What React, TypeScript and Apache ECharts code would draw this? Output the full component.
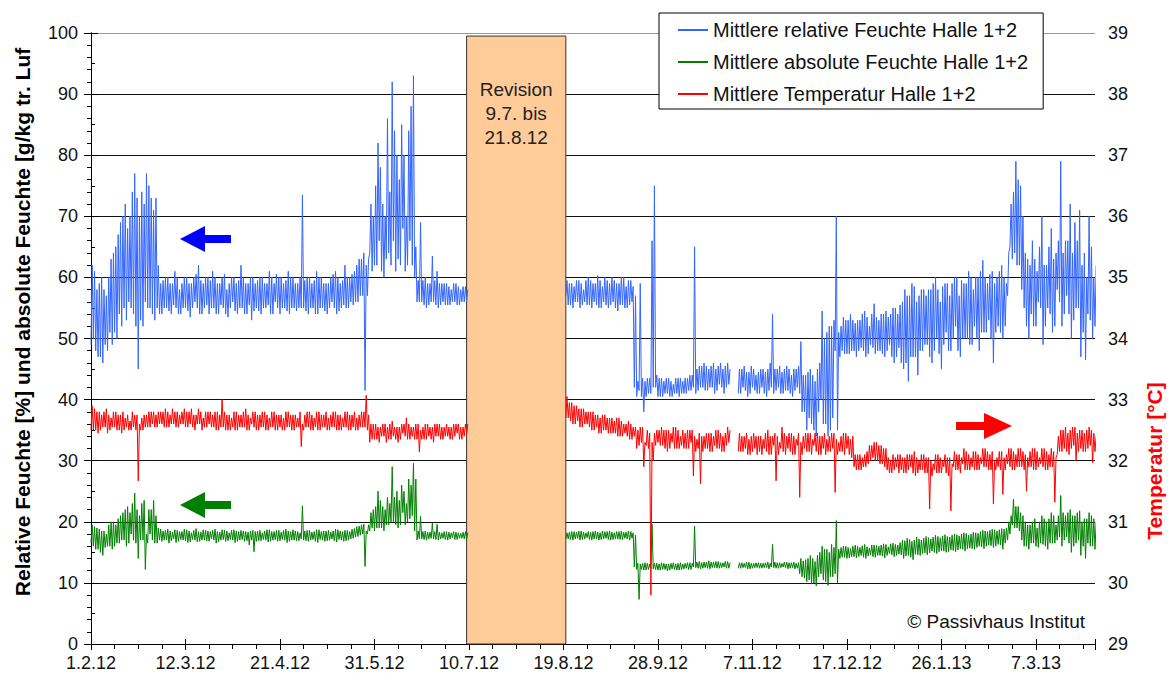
import React, { useEffect, useRef } from "react";
import * as echarts from "echarts";

// ---------- data ----------
const startYear = 2012;
const startMonthIndex = 1; // February
const startDayOfMonth = 1;
const xMaxDay = 425;
const xTickDays = 40;

const seriesNames = [
  "Mittlere relative Feuchte Halle 1+2",
  "Mittlere absolute Feuchte Halle 1+2",
  "Mittlere Temperatur Halle 1+2",
];

// first day (days since 1.2.12) of each measured segment
const segmentStarts = [0, 201, 274];

const revisionDays = [159, 201];
const revisionTop = 99.5;
const revisionLabel = "Revision\n9.7. bis\n21.8.12";

// ---- relative humidity [%]: one reading per day (a) and the opposite edge of the day's band (b)
const rhA = [
  62, 50, 58, 47, 60, 46, 57, 48, 63, 49,
  65, 50, 69, 52, 72, 53, 70, 55, 77, 52,
  45, 74, 52, 77, 55, 73, 54, 73, 55, 59,
  54, 60, 55, 59, 54, 61, 55, 58, 54, 60,
  55, 59, 53.5, 60, 56, 62, 54, 59, 55, 60,
  54, 61, 55, 59, 54, 60, 55, 58, 53.5, 60,
  56, 59, 54, 62, 55, 59, 54, 60, 53, 59,
  55, 60, 54, 59, 55, 61, 54, 59, 56, 60,
  54, 59, 55, 61, 54, 60, 55, 59, 55, 73.5,
  55, 60, 54, 59, 55, 61, 54, 60, 55, 59,
  54, 60, 56, 61, 54, 59, 55, 62, 55, 60,
  56, 61, 56, 63, 57, 64, 41.5, 63, 64, 70,
  62, 82, 66, 72, 60, 86, 64, 92, 66, 80,
  63, 85, 68, 61, 84, 66, 93, 60, 56, 69,
  56, 60, 55, 59, 63.5, 56, 61, 55, 59, 56,
  59, 55.5, 58, 56, 59, 55.5, 58, 56, 58.5, 56,
];
const rhA2 = [
  49, 61, 48, 59, 47, 58, 49, 60, 51, 64,
  51, 67, 54, 70, 55, 68, 56, 74, 54, 73,
  70, 53, 72, 56, 75, 55, 71, 53, 62, 54,
  59.5, 55, 60, 54.5, 59, 55.5, 60, 54, 59, 55,
  60, 54.5, 59, 55, 60.5, 55, 59.5, 54, 60, 55.5,
  59.5, 55, 60, 54, 59, 55.5, 60.5, 54, 59, 55,
  60, 54.5, 59.5, 55, 60, 54, 59, 55.5, 60, 54.5,
  59.5, 54.5, 60, 55, 59, 55.5, 60, 54, 60.5, 55,
  60, 55, 59.5, 54.5, 60, 55, 59, 54.5, 60, 55,
  59.5, 54.5, 60, 55, 59.5, 54, 60, 55, 59, 54.5,
  59, 55, 60.5, 55, 60, 54.5, 59.5, 55.5, 60, 55,
  60.5, 55.5, 62, 56, 63, 57, 62, 57, 72, 61,
  75, 62, 78, 61, 70, 63, 74, 62, 84, 61,
  76, 62, 80, 70, 62, 88, 62, 65, 59.5, 56,
  59.5, 55.5, 59, 55.5, 56, 59.5, 55.5, 59, 55.5, 59,
  55.5, 58.5, 55.5, 59, 56, 58.5, 55.5, 58.5, 56, 58,
];
const rhB = [
  57, 59, 55.5, 58.5, 56, 59.5, 55, 58, 56, 60,
  55.5, 59, 56, 60.3, 55, 58.5, 56, 59.5, 55, 60,
  56, 59, 54.5, 60, 55.5, 58.5, 55, 59.5, 56, 42,
  43, 59, 40.5, 38, 43.5, 41, 66, 75, 42, 43.5,
  40.5, 43, 41, 43.5, 40.5, 42.5, 41, 43.5, 40.5, 43,
  41, 43.5, 41.5, 44, 65, 41, 45.5, 42, 46, 41.5,
  45, 42, 46, 41, 45.5, 42.5, 45, 41, 46, 42.5,
];
const rhB2 = [
  59.5, 55.5, 59, 55, 59.5, 56, 59, 55.5, 59.5, 55.5,
  59.5, 55, 59, 55.5, 59.5, 55, 60, 55.5, 59, 55.5,
  59.5, 55, 59, 55.5, 60, 55, 59.5, 55.5, 58.5, 57,
  40.5, 41.5, 43.5, 43, 40.5, 43.5, 41, 42, 44, 40.5,
  43.5, 40.5, 43.5, 41, 43, 40.5, 43.5, 41, 43.5, 41,
  43.5, 41, 44, 41.5, 42, 45, 41.5, 45.5, 42, 45.5,
  41.5, 45.5, 42, 45, 41.5, 46, 42, 45.5, 42, 45,
];
const rhC = [
  41, 45, 42, 44.5, 40.5, 45.5, 42, 44, 41, 45,
  42, 44.5, 40.5, 46, 54, 41, 45, 42, 44.5, 41,
  45.5, 41.5, 44, 40.5, 45, 42, 49.5, 38, 44, 35,
  45, 36, 43, 34, 46, 54.5, 36, 51, 34, 52,
  37, 70, 35, 52, 48, 53, 47.5, 54, 48, 52.5,
  47, 53, 48.5, 54.5, 47, 52, 49, 55.7, 47.5, 53,
  48, 54, 47, 53.5, 49, 55, 46, 54, 48.5, 56,
  45, 57, 43, 59, 47, 56, 44, 58, 48, 57,
  49, 58, 46, 60, 50, 56, 45, 59, 51, 57,
  48, 60, 52, 57, 47, 59, 50, 61, 49, 58,
  52, 60, 48, 62.8, 51, 59, 53, 61, 46, 60,
  52, 62, 50, 59, 57, 65, 74, 79, 76, 62,
  70, 55, 63, 50, 66, 52, 61, 56, 70, 49,
  62, 55, 68, 51, 64, 58, 79, 52, 66, 57,
  72, 50, 69, 55, 71, 47, 64, 46.5, 70, 53,
  60, 52,
];
const rhC2 = [
  45, 41, 45.5, 41.5, 44.5, 41, 45, 41.5, 44.5, 41,
  45, 41, 45, 41.5, 42, 45, 41.5, 45.5, 41, 45,
  41.5, 45, 41, 45, 41.5, 45.5, 41, 44, 38, 44.5,
  37, 44, 35, 45, 38, 40, 50, 36, 52, 35,
  53, 48, 51, 47, 53.5, 47.5, 53, 47.5, 53, 48,
  53, 48, 54, 48, 53.5, 47.5, 54, 48.5, 53.5, 48,
  54, 47.5, 54.5, 48, 54, 47, 55, 47, 55.5, 46,
  58, 46, 57, 47, 58.5, 47, 57, 48, 58, 49,
  58, 47, 59, 48, 58, 47.5, 58.5, 49, 59, 48,
  59, 50, 60, 48, 59.5, 50, 59, 50, 60, 49,
  60, 50, 61, 51, 60, 51, 60.5, 50, 59, 51,
  61, 51, 60, 52, 64, 72, 63, 64, 62, 75,
  58, 64, 52, 62, 54, 63, 52, 65, 55, 62,
  52, 65, 54, 63, 52, 66, 56, 64, 54, 66,
  54, 64, 53, 66, 55, 62, 51, 60, 54, 65,
  50, 62,
];

// ---- absolute humidity [g/kg]
const ahA = [
  19.5, 16, 19, 15.5, 18.5, 14.5, 18, 16, 20, 15.5,
  19.5, 16.5, 21, 17, 22, 16, 21.5, 18, 24.7, 16.5,
  14, 23, 17, 12.2, 22, 18, 23.5, 16.5, 19, 17,
  18.5, 17, 18.8, 16.5, 18.3, 17.2, 18.6, 16.8, 18.4, 17,
  18.7, 16.6, 18.2, 17.1, 18.9, 16.7, 18.3, 17, 18.6, 16.9,
  18.4, 17.2, 18.8, 16.5, 18.3, 17, 18.6, 16.8, 18.2, 17.1,
  18.7, 16.6, 18.4, 17, 18.5, 16.8, 18.3, 16.2, 18.6, 15.1,
  18.5, 16.9, 18.2, 17.1, 18.7, 16.7, 18.4, 17, 18.6, 16.8,
  18.3, 17.1, 18.8, 16.6, 18.4, 17, 18.5, 16.9, 18.2, 22.6,
  17, 18.6, 16.8, 18.3, 17.1, 18.7, 16.6, 18.4, 17, 18.5,
  16.9, 18.3, 17.2, 18.8, 16.7, 18.5, 17, 18.6, 16.9, 18.4,
  17.2, 18.9, 17.5, 19.3, 17.8, 19.6, 12.7, 19.5, 18.5, 22,
  18.5, 25, 19, 22.5, 18.5, 24, 19.5, 29, 20, 25,
  19, 26, 21.5, 19.5, 27, 20.5, 29.6, 18.5, 17, 20.9,
  17.2, 18.5, 17, 18.3, 19.8, 17.2, 19.6, 17, 18.2, 17.3,
  18.4, 17, 18.2, 17.4, 18.3, 17.1, 18.1, 17.3, 18.4, 17.2,
];
const ahA2 = [
  16.5, 19.2, 15.5, 18.8, 15, 18.5, 15.8, 19.5, 16, 20,
  16, 20.5, 16.5, 21.5, 17, 22.5, 16.5, 23, 17, 22,
  21, 17, 23.5, 18, 16.5, 22, 17, 21, 16.5, 18.8,
  16.8, 18.6, 17, 18.5, 16.9, 18.7, 16.6, 18.4, 17.1, 18.8,
  16.9, 18.5, 16.7, 18.6, 17, 18.4, 16.8, 18.7, 17, 18.5,
  16.8, 18.6, 17, 18.4, 16.7, 18.7, 17.1, 18.5, 16.9, 18.6,
  17, 18.5, 16.8, 18.6, 17.1, 18.4, 16.9, 18.5, 17, 18.4,
  16.8, 18.6, 16.9, 18.5, 17, 18.7, 16.8, 18.4, 17.1, 18.6,
  16.9, 18.6, 17, 18.5, 16.8, 18.7, 17, 18.4, 16.9, 17.2,
  18.5, 16.9, 18.6, 17, 18.4, 16.8, 18.7, 17.1, 18.5, 16.8,
  18.6, 17, 18.5, 16.9, 18.7, 17.1, 18.4, 16.8, 18.6, 17,
  18.8, 17.3, 19.2, 17.6, 19.5, 18, 18.5, 18, 21.5, 19,
  22.5, 19, 23.5, 19, 22, 19.5, 23, 20, 24, 19.5,
  23.5, 19.5, 25, 23, 20, 26, 21, 27, 18.5, 17.2,
  18.4, 17.1, 18.3, 17.2, 17.3, 18.4, 17.1, 18.3, 17.2, 18.4,
  17.1, 18.3, 17.2, 18.4, 17.1, 18.2, 17.3, 18.3, 17.2, 18.2,
];
const ahB = [
  18.2, 17.2, 18.4, 17, 18.3, 17.3, 18.5, 17.1, 18.2, 17.4,
  18.3, 17, 18.5, 17.2, 18.2, 17.1, 18.4, 17.3, 18.5, 17,
  18.2, 17.2, 18.4, 17.1, 18.3, 17.3, 18.5, 17, 18.2, 12.6,
  13.2, 7.3, 12.2, 13.3, 12.1, 13.1, 19.6, 12.3, 13.2, 12.1,
  13.3, 12.2, 13.1, 12.0, 13.2, 12.3, 13.1, 12.1, 13.3, 12.2,
  13.2, 12.4, 13.3, 12.2, 19.3, 12.5, 13.5, 12.3, 13.4, 12.5,
  13.6, 12.3, 13.4, 12.5, 13.5, 12.4, 13.3, 12.6, 13.5, 12.4,
];
const ahB2 = [
  17.2, 18.3, 17.1, 18.4, 17.2, 18.5, 17, 18.3, 17.2, 18.4,
  17.1, 18.4, 17.2, 18.3, 17, 18.5, 17.2, 18.4, 17.1, 18.3,
  17.1, 18.4, 17.2, 18.5, 17.1, 18.3, 17.2, 18.4, 17.3, 17.8,
  12.2, 13.1, 13.2, 12.1, 13.2, 12.2, 12.4, 13.2, 12.2, 13.1,
  12.1, 13.2, 12.2, 13.1, 12.1, 13.3, 12.2, 13.2, 12.1, 13.1,
  12.3, 13.3, 12.2, 13.2, 12.6, 13.4, 12.4, 13.3, 12.4, 13.4,
  12.4, 13.4, 12.5, 13.5, 12.4, 13.3, 12.5, 13.5, 12.4, 13.3,
];
const ahC = [
  13.3, 12.4, 13.2, 12.5, 13.4, 12.3, 13.2, 12.5, 13.3, 12.4,
  13.2, 12.5, 13.4, 12.3, 16.3, 12.5, 13.3, 12.4, 13.2, 12.6,
  13.4, 12.3, 13.3, 12.5, 13.2, 12.4, 14, 11, 13.8, 10.2,
  14.5, 9.8, 13.5, 9.5, 15, 16, 10.5, 15.5, 9.6, 16.3,
  11, 20.2, 10, 15.8, 14.2, 16, 14, 15.6, 14.3, 16.2,
  14.1, 15.8, 14.5, 16.3, 14, 15.7, 14.6, 16.2, 14.2, 16,
  14.5, 16.4, 14.1, 15.9, 14.8, 16.5, 14.3, 16.2, 14.7, 17,
  14, 17.3, 14.5, 16.8, 13.8, 17.5, 14.6, 17, 14.8, 17.6,
  14.6, 17.2, 15.2, 17.8, 14.8, 17.4, 15.3, 17.9, 15, 17.5,
  15.4, 18, 15.1, 17.7, 15.6, 18.2, 15.2, 17.8, 15.7, 18.3,
  15.5, 18.1, 16, 18.6, 15.6, 18.4, 16.2, 18.8, 15.8, 18.5,
  16.3, 18.9, 15.5, 19, 17, 21, 23.7, 19, 22.5, 18.5,
  21, 16, 19.5, 15.5, 20, 16.5, 19, 15.8, 21, 16.3,
  20, 15.5, 21.5, 16.5, 19.5, 17, 24.3, 16, 21, 17.5,
  22, 15, 21, 16.5, 21.8, 14.5, 20.5, 14, 21.5, 16,
  20.5, 15.5,
];
const ahC2 = [
  12.4, 13.3, 12.5, 13.4, 12.3, 13.2, 12.4, 13.3, 12.5, 13.2,
  12.4, 13.3, 12.5, 13.2, 12.6, 13.4, 12.4, 13.3, 12.5, 13.4,
  12.5, 13.3, 12.4, 13.4, 12.3, 13.3, 11.5, 13.6, 10.8, 14,
  10.5, 14, 10, 14.5, 11, 11.5, 15.5, 10.2, 15, 11,
  15.8, 11.5, 15.5, 14, 16, 14.2, 15.8, 14.1, 16, 14.3,
  16, 14.3, 16.1, 14.2, 15.9, 14.4, 16.2, 14.3, 16.1, 14.5,
  16.2, 14.4, 16.3, 14.5, 16.4, 14.6, 16.3, 14.5, 16.6, 14.6,
  16.9, 14.4, 17.1, 14.2, 17, 14.7, 17.2, 14.5, 17.3, 14.9,
  17.4, 14.9, 17.5, 15, 17.6, 15.1, 17.7, 15.2, 17.6, 15.1,
  17.8, 15.3, 17.9, 15.4, 18, 15.5, 18.1, 15.6, 18, 15.6,
  18.2, 15.8, 18.4, 15.9, 18.5, 16, 18.6, 16.1, 18.7, 16,
  18.7, 16.2, 18.8, 16.5, 20, 18, 19.5, 22.5, 19, 21.5,
  17, 20, 16, 19.5, 16.5, 20.5, 16, 20, 16.5, 20.5,
  16, 20.5, 16.5, 21, 16.5, 21, 17.5, 21.5, 17, 21.5,
  16.5, 21, 16, 21.5, 17, 20, 16, 20.5, 16.5, 21,
  16, 20,
];

// ---- temperature [°C]
const tA = [
  32.9, 32.5, 32.8, 32.45, 32.75, 32.55, 32.85, 32.45, 32.7, 32.55,
  32.8, 32.5, 32.75, 32.45, 32.7, 32.55, 32.65, 32.5, 32.75, 32.5,
  31.67, 32.7, 32.5, 32.75, 32.55, 32.8, 32.6, 32.75, 32.55, 32.8,
  32.6, 32.85, 32.55, 32.75, 32.6, 32.8, 32.55, 32.75, 32.6, 32.85,
  32.55, 32.8, 32.6, 32.75, 32.5, 32.85, 32.6, 32.7, 32.55, 32.8,
  32.6, 32.75, 32.55, 32.8, 32.5, 33.0, 32.55, 32.75, 32.5, 32.7,
  32.55, 32.8, 32.5, 32.75, 32.55, 32.85, 32.5, 32.7, 32.6, 32.8,
  32.5, 32.75, 32.55, 32.8, 32.5, 32.7, 32.55, 32.8, 32.5, 32.75,
  32.55, 32.7, 32.5, 32.8, 32.55, 32.75, 32.5, 32.7, 32.55, 32.23,
  32.75, 32.55, 32.8, 32.5, 32.7, 32.55, 32.8, 32.5, 32.75, 32.55,
  32.7, 32.5, 32.8, 32.55, 32.75, 32.5, 32.7, 32.55, 32.8, 32.5,
  32.75, 32.55, 32.7, 32.5, 32.8, 32.55, 33.07, 32.5, 32.3, 32.6,
  32.35, 32.55, 32.3, 32.6, 32.4, 32.55, 32.35, 32.65, 32.4, 32.55,
  32.3, 32.6, 32.45, 32.7, 32.35, 32.55, 32.4, 32.6, 32.35, 32.14,
  32.55, 32.35, 32.6, 32.4, 32.55, 32.3, 32.6, 32.4, 32.55, 32.35,
  32.6, 32.4, 32.55, 32.35, 32.6, 32.45, 32.55, 32.35, 32.6, 32.45,
];
const tA2 = [
  32.5, 32.85, 32.5, 32.8, 32.5, 32.8, 32.55, 32.75, 32.5, 32.8,
  32.55, 32.75, 32.5, 32.8, 32.5, 32.75, 32.5, 32.8, 32.55, 32.75,
  32.6, 32.5, 32.75, 32.55, 32.8, 32.55, 32.8, 32.55, 32.8, 32.6,
  32.8, 32.55, 32.8, 32.55, 32.85, 32.6, 32.8, 32.55, 32.8, 32.6,
  32.8, 32.55, 32.85, 32.55, 32.75, 32.6, 32.8, 32.5, 32.8, 32.55,
  32.8, 32.55, 32.8, 32.5, 32.75, 32.55, 32.8, 32.5, 32.75, 32.5,
  32.8, 32.5, 32.75, 32.55, 32.8, 32.55, 32.75, 32.5, 32.8, 32.55,
  32.75, 32.5, 32.8, 32.55, 32.75, 32.5, 32.8, 32.55, 32.75, 32.5,
  32.75, 32.5, 32.8, 32.55, 32.75, 32.5, 32.75, 32.55, 32.8, 32.6,
  32.5, 32.8, 32.55, 32.75, 32.5, 32.8, 32.5, 32.75, 32.55, 32.8,
  32.5, 32.75, 32.55, 32.8, 32.5, 32.75, 32.5, 32.8, 32.55, 32.75,
  32.5, 32.8, 32.5, 32.75, 32.55, 32.8, 32.55, 32.75, 32.6, 32.35,
  32.6, 32.35, 32.55, 32.4, 32.6, 32.3, 32.6, 32.35, 32.55, 32.35,
  32.55, 32.35, 32.6, 32.4, 32.6, 32.35, 32.55, 32.35, 32.6, 32.5,
  32.35, 32.6, 32.35, 32.55, 32.35, 32.6, 32.4, 32.6, 32.35, 32.55,
  32.4, 32.55, 32.35, 32.6, 32.4, 32.6, 32.35, 32.55, 32.4, 32.6,
];
const tB = [
  33.05, 32.7, 32.95, 32.6, 32.9, 32.65, 32.85, 32.55, 32.8, 32.6,
  32.8, 32.5, 32.75, 32.55, 32.7, 32.45, 32.75, 32.5, 32.7, 32.45,
  32.65, 32.45, 32.7, 32.4, 32.6, 32.45, 32.65, 32.35, 32.55, 32.4,
  32.2, 32.55, 32.3, 31.9, 32.25, 32.45, 29.8, 32.0, 32.5, 32.3,
  32.55, 32.25, 32.5, 32.15, 32.45, 32.3, 32.55, 32.2, 32.4, 32.25,
  32.45, 32.2, 32.5, 32.3, 31.75, 32.35, 32.45, 31.62, 32.4, 32.2,
  32.45, 32.15, 32.4, 32.25, 32.5, 32.2, 32.4, 32.15, 32.55, 32.3,
];
const tB2 = [
  32.7, 32.95, 32.65, 32.9, 32.6, 32.85, 32.55, 32.85, 32.6, 32.8,
  32.55, 32.8, 32.5, 32.75, 32.45, 32.75, 32.5, 32.7, 32.45, 32.7,
  32.45, 32.7, 32.4, 32.65, 32.4, 32.6, 32.4, 32.6, 32.35, 32.55,
  32.5, 32.25, 32.55, 32.3, 32.5, 32.2, 32.3, 32.45, 32.25, 32.5,
  32.25, 32.5, 32.2, 32.5, 32.2, 32.55, 32.2, 32.5, 32.2, 32.5,
  32.2, 32.5, 32.2, 32.5, 32.4, 32.15, 32.2, 32.4, 32.15, 32.45,
  32.2, 32.45, 32.15, 32.5, 32.2, 32.45, 32.15, 32.45, 32.25, 32.5,
];
const tC = [
  32.45, 32.15, 32.4, 32.2, 32.35, 32.1, 32.45, 32.2, 32.4, 32.15,
  32.35, 32.2, 32.5, 32.1, 32.4, 32.25, 31.67, 32.3, 32.55, 32.15,
  32.4, 32.2, 32.45, 32.1, 32.35, 32.25, 31.4, 32.4, 32.2, 32.45,
  32.15, 32.35, 32.25, 32.45, 32.1, 32.4, 32.2, 32.35, 32.15, 32.45,
  32.2, 31.48, 32.3, 32.4, 32.15, 32.45, 32.2, 32.35, 32.05, 31.9,
  32.1, 31.85, 32.05, 31.9, 32.15, 31.95, 32.25, 32.05, 32.3, 32.0,
  32.25, 31.95, 32.2, 31.85, 32.0, 31.8, 32.05, 31.9, 32.1, 31.85,
  32.05, 31.8, 32.1, 31.9, 32.15, 31.75, 32.0, 31.85, 32.1, 31.8,
  32.05, 31.21, 31.95, 31.85, 32.1, 31.8, 32.0, 31.9, 32.05, 31.75,
  31.18, 31.9, 32.1, 31.85, 32.05, 31.95, 32.15, 31.85, 32.05, 31.9,
  32.15, 31.85, 32.05, 31.95, 32.2, 31.9, 32.1, 31.85, 31.29, 32.05,
  31.9, 32.15, 31.45, 32.1, 31.95, 32.2, 31.85, 32.1, 31.9, 32.2,
  31.9, 32.1, 31.5, 32.15, 31.9, 32.2, 31.85, 32.05, 31.95, 32.2,
  31.85, 32.1, 31.9, 32.15, 31.32, 32.4, 32.15, 32.5, 32.2, 32.45,
  32.1, 32.55, 32.25, 32.0, 32.5, 32.2, 32.45, 32.15, 32.55, 32.25,
  31.97, 32.4,
];
const tC2 = [
  32.15, 32.4, 32.15, 32.45, 32.1, 32.4, 32.15, 32.4, 32.1, 32.4,
  32.1, 32.45, 32.15, 32.4, 32.1, 32.45, 32.4, 32.1, 32.2, 32.45,
  32.1, 32.45, 32.15, 32.4, 32.1, 32.45, 32.3, 32.1, 32.45, 32.15,
  32.45, 32.1, 32.45, 32.15, 32.4, 32.1, 32.45, 32.1, 32.4, 32.15,
  32.45, 32.35, 32.1, 32.15, 32.45, 32.1, 32.4, 32.1, 32.4, 32.1,
  31.85, 32.1, 31.85, 32.1, 31.9, 32.25, 32.0, 32.3, 32.0, 32.25,
  31.95, 32.2, 31.9, 32.05, 31.8, 32.1, 31.85, 32.1, 31.8, 32.05,
  31.8, 32.1, 31.85, 32.1, 31.8, 32.05, 31.8, 32.1, 31.85, 32.05,
  31.8, 32.0, 31.75, 32.1, 31.8, 32.05, 31.8, 32.1, 31.8, 32.05,
  31.95, 32.15, 31.85, 32.1, 31.8, 32.2, 31.85, 32.1, 31.85, 32.15,
  31.85, 32.1, 31.85, 32.2, 31.9, 32.15, 31.85, 32.15, 32.0, 31.85,
  32.15, 31.85, 32.05, 31.85, 32.2, 31.9, 32.15, 31.85, 32.2, 31.9,
  32.15, 31.85, 32.05, 31.9, 32.2, 31.85, 32.15, 31.9, 32.2, 31.9,
  32.15, 31.85, 32.2, 31.9, 32.05, 32.1, 32.5, 32.15, 32.55, 32.15,
  32.5, 32.2, 32.55, 32.45, 32.15, 32.5, 32.15, 32.5, 32.2, 32.5,
  32.45, 32.15,
];

// ---------- helpers ----------
// each day contributes its lower reading, then its upper reading half a day later
function buildSeries(segments: number[][][]) {
  const out: any[] = [];
  segments.forEach(([a, b], si) => {
    const start = segmentStarts[si];
    if (si > 0) out.push([start - 0.5, null]);
    a.forEach((v, i) => {
      const w = b[i];
      out.push([start + i, Math.min(v, w)]);
      out.push([start + i + 0.5, Math.max(v, w)]);
    });
  });
  return out;
}

function dayToLabel(day: number) {
  const d = new Date(startYear, startMonthIndex, startDayOfMonth + day);
  const yy = String(d.getFullYear() % 100).padStart(2, "0");
  return `${d.getDate()}.${d.getMonth() + 1}.${yy}`;
}

const FONT = "'Liberation Sans', Arial, sans-serif";
const TXT = "#111";

export default function App() {
  const ref = useRef<HTMLDivElement>(null);

  useEffect(() => {
    if (!ref.current) return;
    const chart = echarts.init(ref.current, undefined, { renderer: "svg" });

    const gridColors = ["#111", "#111", "#111", "#111", "#111", "#111", "#111", "#111", "#111", "#111", "#999"];

    const option: any = {
      animation: false,
      backgroundColor: "#fff",
      textStyle: { fontFamily: FONT },
      grid: { left: 91, right: 73, top: 33, bottom: 38, containLabel: false },
      legend: {
        orient: "vertical",
        left: 659,
        top: 13,
        padding: [7, 15, 5, 19],
        itemGap: 12,
        itemWidth: 30,
        itemHeight: 2,
        icon: "rect",
        backgroundColor: "#fff",
        borderColor: "#000",
        borderWidth: 1,
        textStyle: { fontSize: 20, color: TXT, fontFamily: FONT },
        data: seriesNames,
      },
      xAxis: [
        {
          type: "value",
          min: 0,
          max: xMaxDay,
          interval: xTickDays,
          axisLine: { show: true, lineStyle: { color: "#000", width: 1 } },
          axisTick: { show: true, length: 6, lineStyle: { color: "#000" } },
          minorTick: { show: true, splitNumber: 4, length: 5, lineStyle: { color: "#000" } },
          splitLine: { show: false },
          axisLabel: {
            fontSize: 18,
            color: TXT,
            margin: 10,
            fontFamily: FONT,
            showMaxLabel: false,
            formatter: (v: number) => dayToLabel(v),
          },
        },
        {
          type: "value",
          gridIndex: 0,
          position: "bottom",
          min: 0,
          max: xMaxDay,
          interval: xTickDays,
          axisLine: { show: false },
          axisTick: { show: true, inside: true, length: 5, lineStyle: { color: "#000" } },
          axisLabel: { show: false },
          splitLine: { show: false },
        },
      ],
      yAxis: [
        {
          type: "value",
          min: 0,
          max: 100,
          interval: 10,
          position: "left",
          axisLine: { show: true, lineStyle: { color: "#000" } },
          axisTick: { show: true, length: 7, lineStyle: { color: "#000" } },
          minorTick: { show: true, splitNumber: 5, length: 4, lineStyle: { color: "#000" } },
          splitLine: { show: true, lineStyle: { color: gridColors, width: 1 } },
          axisLabel: { fontSize: 18, color: TXT, margin: 13, fontFamily: FONT },
        },
        {
          type: "value",
          min: 29,
          max: 39,
          interval: 1,
          position: "right",
          axisLine: { show: true, lineStyle: { color: "#000" } },
          axisTick: { show: true, length: 7, lineStyle: { color: "#000" } },
          minorTick: { show: true, splitNumber: 2, length: 4, lineStyle: { color: "#000" } },
          splitLine: { show: false },
          axisLabel: { fontSize: 18, color: TXT, margin: 13, fontFamily: FONT },
        },
      ],
      series: [
        {
          name: seriesNames[0],
          type: "line",
          xAxisIndex: 0,
          yAxisIndex: 0,
          data: buildSeries([[rhA, rhA2], [rhB, rhB2], [rhC, rhC2]]),
          showSymbol: false,
          symbol: "none",
          connectNulls: false,
          color: "#3366ff",
          lineStyle: { color: "#3366ff", width: 1 },
          z: 3,
          markArea: {
            silent: true,
            itemStyle: { color: "#ffcc99", borderColor: "#333", borderWidth: 1 },
            label: {
              show: true,
              position: "insideTop",
              distance: 42,
              fontSize: 19,
              lineHeight: 24,
              color: "#222",
              fontFamily: FONT,
              align: "center",
            },
            data: [
              [
                { xAxis: revisionDays[0], yAxis: 0, name: revisionLabel },
                { xAxis: revisionDays[1], yAxis: revisionTop },
              ],
            ],
          },
        },
        {
          name: seriesNames[1],
          type: "line",
          xAxisIndex: 0,
          yAxisIndex: 0,
          data: buildSeries([[ahA, ahA2], [ahB, ahB2], [ahC, ahC2]]),
          showSymbol: false,
          symbol: "none",
          connectNulls: false,
          color: "#008000",
          lineStyle: { color: "#008000", width: 1 },
          z: 3,
        },
        {
          name: seriesNames[2],
          type: "line",
          xAxisIndex: 0,
          yAxisIndex: 1,
          data: buildSeries([[tA, tA2], [tB, tB2], [tC, tC2]]),
          showSymbol: false,
          symbol: "none",
          connectNulls: false,
          color: "#ff0000",
          lineStyle: { color: "#ff0000", width: 1 },
          z: 3,
        },
      ],
      graphic: [
        {
          type: "text",
          x: 22,
          y: 322,
          rotation: Math.PI / 2,
          style: {
            text: "Relative Feuchte [%] und absolute Feuchte [g/kg tr. Luf",
            fontSize: 21,
            fontWeight: "bold",
            fontFamily: FONT,
            fill: "#000",
            textAlign: "center",
            textVerticalAlign: "middle",
            align: "center",
            verticalAlign: "middle",
          },
        },
        {
          type: "text",
          x: 1154,
          y: 461,
          rotation: Math.PI / 2,
          style: {
            text: "Temperatur [°C]",
            fontSize: 21,
            fontWeight: "bold",
            fontFamily: FONT,
            fill: "#ff0000",
            textAlign: "center",
            textVerticalAlign: "middle",
            align: "center",
            verticalAlign: "middle",
          },
        },
        {
          type: "text",
          x: 1085,
          y: 621,
          style: {
            text: "© Passivhaus Institut",
            fontSize: 19,
            fontFamily: FONT,
            fill: TXT,
            textAlign: "right",
            textVerticalAlign: "middle",
            align: "right",
            verticalAlign: "middle",
          },
        },
        {
          type: "polygon",
          shape: { points: [[180, 239], [205, 226], [205, 235], [231, 235], [231, 243], [205, 243], [205, 252]] },
          style: { fill: "#0000ff" },
          z: 10,
        },
        {
          type: "polygon",
          shape: { points: [[180, 505], [205, 492], [205, 501], [231, 501], [231, 509], [205, 509], [205, 518]] },
          style: { fill: "#008000" },
          z: 10,
        },
        {
          type: "polygon",
          shape: { points: [[956, 422], [984, 422], [984, 413], [1012, 426], [984, 439], [984, 430], [956, 430]] },
          style: { fill: "#ff0000" },
          z: 10,
        },
      ],
    };

    chart.setOption(option);
    return () => chart.dispose();
  }, []);

  return (
    <div
      ref={ref}
      style={{ position: "fixed", left: 0, top: 0, width: 1168, height: 682, background: "#fff" }}
    />
  );
}
